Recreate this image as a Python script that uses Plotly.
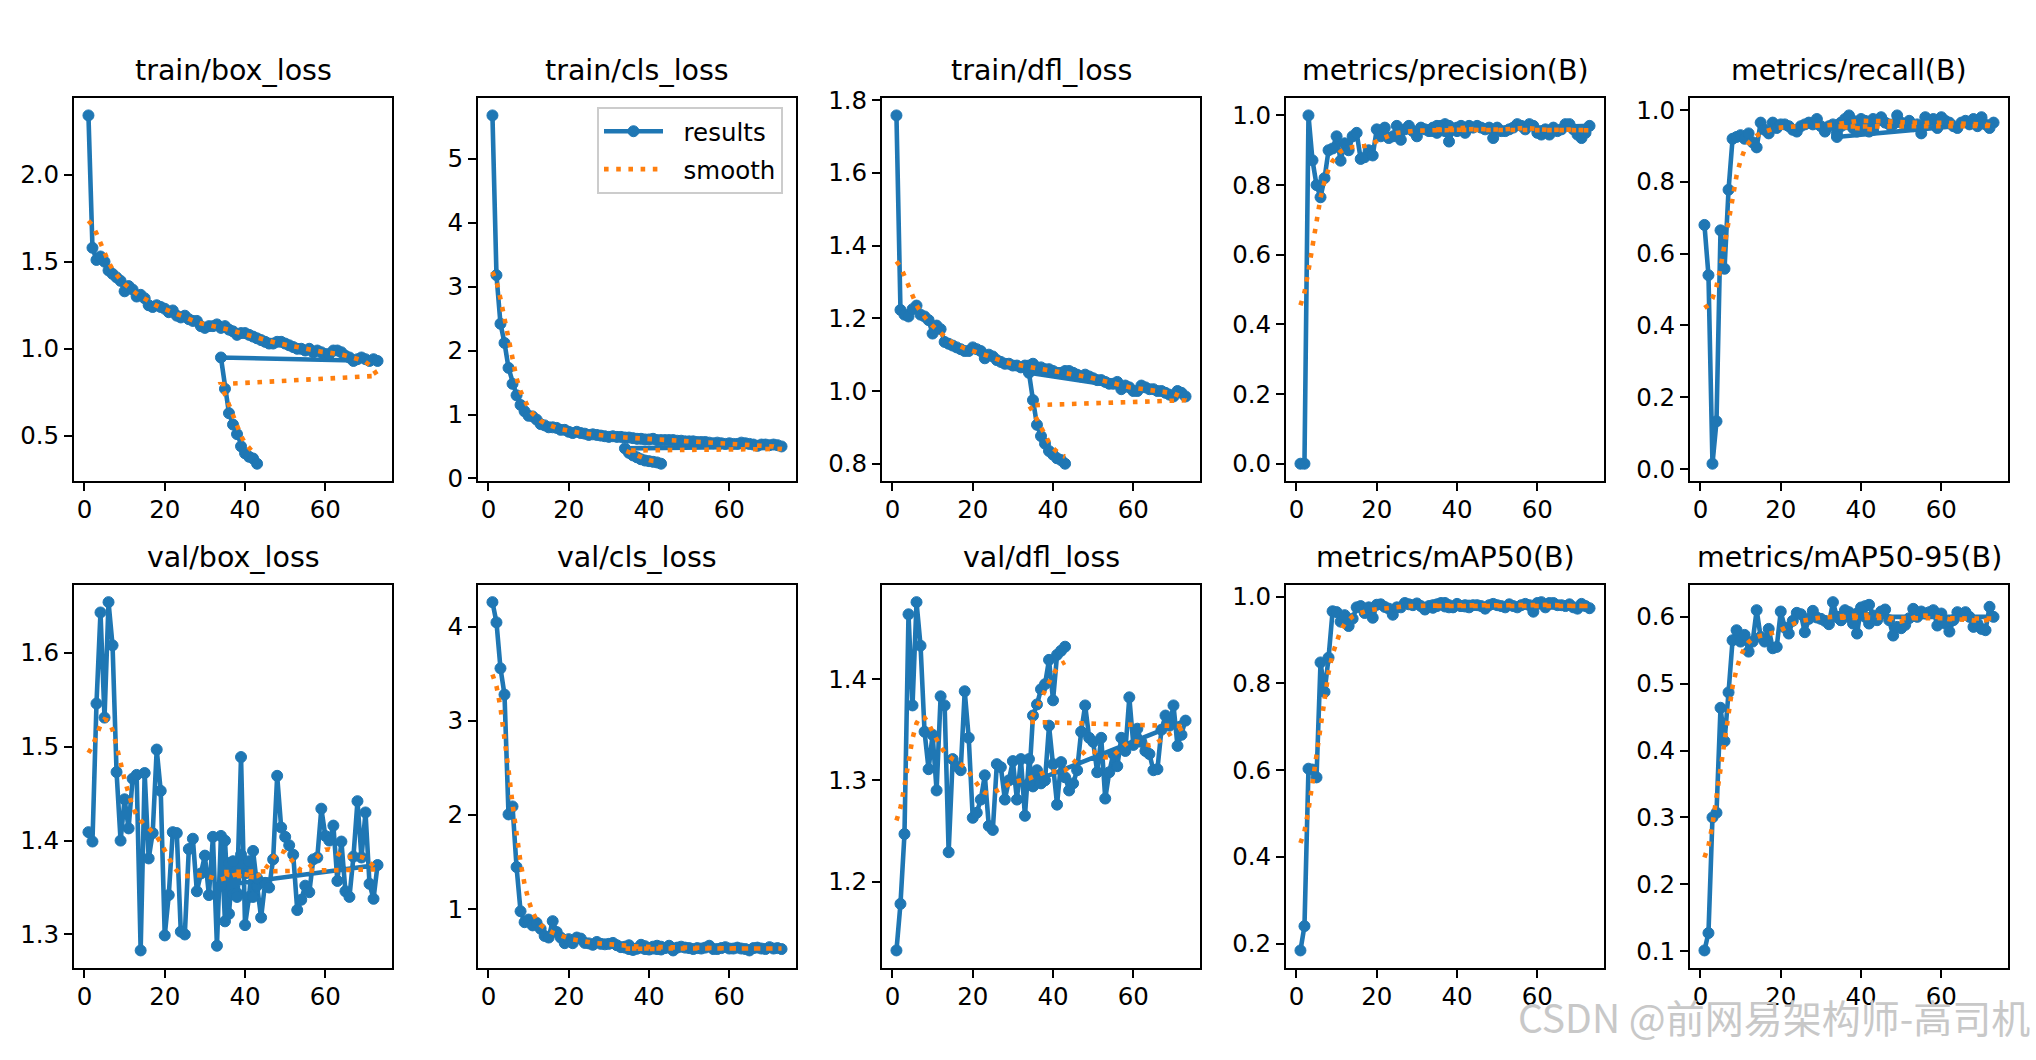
import numpy as np
import plotly.graph_objects as go

# ---------------- data ----------------
RUN1_EPOCHS = list(range(1, 74))
RUN2_EPOCHS = list(range(34, 44))

TITLES = ["train/box_loss", "train/cls_loss", "train/dfl_loss", "metrics/precision(B)", "metrics/recall(B)",
          "val/box_loss", "val/cls_loss", "val/dfl_loss", "metrics/mAP50(B)", "metrics/mAP50-95(B)"]
LEGEND_NAMES = ["results", "smooth"]

train_box_1 = [2.34, 1.58, 1.51, 1.53, 1.50, 1.45, 1.43, 1.41, 1.39, 1.33,
               1.36, 1.34, 1.30, 1.31, 1.29, 1.25, 1.24, 1.25, 1.24, 1.23,
               1.21, 1.22, 1.19, 1.18, 1.19, 1.17, 1.16, 1.16, 1.13, 1.12,
               1.13, 1.13, 1.14, 1.12, 1.13, 1.11, 1.10, 1.08, 1.09, 1.09,
               1.08, 1.07, 1.06, 1.05, 1.04, 1.03, 1.03, 1.04, 1.04, 1.03,
               1.02, 1.01, 1.00, 1.00, 0.99, 1.00, 0.98, 0.99, 0.98, 0.97,
               0.97, 0.99, 0.99, 0.98, 0.96, 0.95, 0.93, 0.94, 0.95, 0.94,
               0.93, 0.94, 0.93]
train_box_2 = [0.95, 0.77, 0.63, 0.565, 0.51, 0.44, 0.40, 0.38, 0.37, 0.34]

train_cls_1 = [5.68, 3.18, 2.42, 2.12, 1.73, 1.48, 1.30, 1.15, 1.05, 0.98,
               0.97, 0.92, 0.85, 0.83, 0.80, 0.80, 0.79, 0.76, 0.76, 0.73,
               0.71, 0.73, 0.71, 0.70, 0.68, 0.69, 0.68, 0.67, 0.66, 0.65,
               0.66, 0.65, 0.65, 0.64, 0.64, 0.63, 0.62, 0.62, 0.61, 0.61,
               0.62, 0.60, 0.60, 0.60, 0.60, 0.60, 0.59, 0.59, 0.58, 0.58,
               0.58, 0.57, 0.57, 0.57, 0.56, 0.55, 0.56, 0.55, 0.54, 0.55,
               0.54, 0.54, 0.56, 0.55, 0.54, 0.53, 0.51, 0.53, 0.53, 0.52,
               0.53, 0.52, 0.50]
train_cls_2 = [0.47, 0.40, 0.36, 0.33, 0.30, 0.28, 0.27, 0.26, 0.25, 0.23]

train_dfl_1 = [1.758, 1.223, 1.21, 1.205, 1.225, 1.235, 1.21, 1.205, 1.195, 1.158,
               1.18, 1.17, 1.135, 1.13, 1.125, 1.12, 1.115, 1.11, 1.11, 1.12,
               1.115, 1.11, 1.09, 1.10, 1.095, 1.085, 1.08, 1.075, 1.075, 1.07,
               1.07, 1.065, 1.07, 1.07, 1.075, 1.065, 1.065, 1.06, 1.06, 1.055,
               1.05, 1.05, 1.055, 1.055, 1.05, 1.045, 1.04, 1.045, 1.04, 1.035,
               1.03, 1.03, 1.025, 1.02, 1.02, 1.025, 1.005, 1.015, 1.01, 1.0,
               1.0, 1.015, 1.01, 1.005, 1.005, 1.0, 1.0, 0.995, 0.99, 0.985,
               1.0, 0.995, 0.985]
train_dfl_2 = [1.05, 0.975, 0.907, 0.876, 0.855, 0.835, 0.825, 0.815, 0.81, 0.80]

precision_1 = [0.0, 0.0, 1.0, 0.871, 0.80, 0.765, 0.82, 0.90, 0.905, 0.94,
               0.87, 0.92, 0.90, 0.94, 0.95, 0.875, 0.88, 0.90, 0.885, 0.96,
               0.94, 0.965, 0.935, 0.94, 0.97, 0.93, 0.96, 0.97, 0.955, 0.94,
               0.965, 0.96, 0.955, 0.965, 0.95, 0.97, 0.975, 0.925, 0.96, 0.955,
               0.965, 0.95, 0.97, 0.965, 0.97, 0.965, 0.96, 0.965, 0.935, 0.965,
               0.955, 0.955, 0.96, 0.965, 0.975, 0.97, 0.96, 0.975, 0.97, 0.95,
               0.945, 0.96, 0.945, 0.965, 0.955, 0.96, 0.975, 0.975, 0.96, 0.945,
               0.935, 0.95, 0.97]
precision_2 = [0.955, 0.97, 0.96, 0.955, 0.97, 0.96, 0.965, 0.97, 0.96, 0.965]

recall_1 = [0.68, 0.54, 0.015, 0.133, 0.665, 0.558, 0.778, 0.92, 0.925, 0.93,
            0.92, 0.935, 0.91, 0.896, 0.965, 0.945, 0.935, 0.965, 0.95, 0.96,
            0.96, 0.955, 0.945, 0.94, 0.955, 0.96, 0.965, 0.96, 0.975, 0.955,
            0.94, 0.955, 0.96, 0.935, 0.965, 0.975, 0.985, 0.97, 0.96, 0.975,
            0.97, 0.965, 0.975, 0.97, 0.98, 0.965, 0.96, 0.96, 0.985, 0.965,
            0.96, 0.97, 0.955, 0.96, 0.935, 0.98, 0.97, 0.975, 0.95, 0.98,
            0.97, 0.965, 0.955, 0.95, 0.965, 0.97, 0.96, 0.975, 0.955, 0.98,
            0.96, 0.95, 0.965]
recall_2 = [0.925, 0.955, 0.96, 0.96, 0.95, 0.94, 0.955, 0.945, 0.94, 0.945]

val_box_1 = [1.409, 1.399, 1.546, 1.643, 1.531, 1.654, 1.608, 1.473, 1.400, 1.444,
             1.413, 1.466, 1.470, 1.283, 1.472, 1.381, 1.408, 1.497, 1.453, 1.299,
             1.342, 1.409, 1.408, 1.303, 1.300, 1.391, 1.402, 1.346, 1.365, 1.384,
             1.342, 1.404, 1.288, 1.405, 1.314, 1.376, 1.343, 1.344, 1.489, 1.310,
             1.340, 1.389, 1.352, 1.318, 1.355, 1.350, 1.380, 1.469, 1.414, 1.404,
             1.395, 1.385, 1.326, 1.337, 1.352, 1.345, 1.380, 1.382, 1.434, 1.405,
             1.400, 1.416, 1.357, 1.399, 1.346, 1.340, 1.383, 1.442, 1.382, 1.430,
             1.354, 1.338, 1.374]
val_box_2 = [1.352, 1.400, 1.322, 1.378, 1.340, 1.385, 1.365, 1.378, 1.340, 1.360]

val_cls_1 = [4.26, 4.045, 3.557, 3.278, 2.005, 2.09, 1.446, 0.976, 0.86, 0.888,
             0.826, 0.853, 0.79, 0.714, 0.697, 0.871, 0.756, 0.697, 0.637, 0.68,
             0.637, 0.697, 0.686, 0.64, 0.635, 0.62, 0.65, 0.63, 0.625, 0.63,
             0.64, 0.615, 0.595, 0.60, 0.615, 0.575, 0.58, 0.62, 0.605, 0.585,
             0.60, 0.61, 0.60, 0.585, 0.61, 0.56, 0.59, 0.60, 0.59, 0.585,
             0.575, 0.585, 0.58, 0.59, 0.61, 0.575, 0.575, 0.585, 0.595, 0.58,
             0.58, 0.59, 0.58, 0.575, 0.56, 0.585, 0.59, 0.58, 0.575, 0.595,
             0.58, 0.585, 0.575]
val_cls_2 = [0.59, 0.575, 0.565, 0.58, 0.59, 0.575, 0.57, 0.58, 0.575, 0.57]

val_dfl_1 = [1.132, 1.178, 1.247, 1.464, 1.374, 1.476, 1.433, 1.348, 1.311, 1.345,
             1.29, 1.383, 1.374, 1.229, 1.321, 1.314, 1.31, 1.388, 1.342, 1.263,
             1.268, 1.281, 1.305, 1.255, 1.251, 1.316, 1.313, 1.281, 1.30, 1.319,
             1.281, 1.321, 1.265, 1.321, 1.294, 1.31, 1.297, 1.30, 1.354, 1.316,
             1.276, 1.318, 1.303, 1.29, 1.297, 1.31, 1.348, 1.374, 1.342, 1.338,
             1.308, 1.342, 1.282, 1.308, 1.326, 1.314, 1.342, 1.329, 1.382, 1.335,
             1.351, 1.338, 1.329, 1.326, 1.31, 1.311, 1.35, 1.364, 1.354, 1.374,
             1.334, 1.345, 1.359]
val_dfl_2 = [1.297, 1.364, 1.375, 1.390, 1.395, 1.419, 1.379, 1.424, 1.428, 1.432]

map50_1 = [0.184, 0.24, 0.603, 0.601, 0.583, 0.848, 0.78, 0.859, 0.966, 0.964,
           0.942, 0.957, 0.932, 0.949, 0.975, 0.978, 0.962, 0.975, 0.951, 0.981,
           0.982, 0.976, 0.972, 0.958, 0.975, 0.975, 0.985, 0.982, 0.98, 0.984,
           0.978, 0.97, 0.978, 0.974, 0.982, 0.985, 0.985, 0.975, 0.975, 0.983,
           0.978, 0.98, 0.975, 0.98, 0.98, 0.978, 0.972, 0.98, 0.983, 0.98,
           0.978, 0.975, 0.982, 0.978, 0.975, 0.98, 0.983, 0.98, 0.965, 0.985,
           0.987, 0.975, 0.985, 0.985, 0.98, 0.98, 0.978, 0.982, 0.975, 0.972,
           0.983, 0.978, 0.973]
map50_2 = [0.98, 0.978, 0.982, 0.977, 0.98, 0.976, 0.98, 0.978, 0.977, 0.979]

map5095_1 = [0.101, 0.127, 0.300, 0.307, 0.464, 0.414, 0.487, 0.565, 0.58, 0.563,
             0.573, 0.548, 0.563, 0.61, 0.57, 0.563, 0.582, 0.553, 0.555, 0.608,
             0.584, 0.575, 0.594, 0.606, 0.604, 0.577, 0.597, 0.609, 0.599, 0.597,
             0.594, 0.589, 0.622, 0.60, 0.595, 0.605, 0.607, 0.598, 0.575, 0.614,
             0.616, 0.618, 0.602, 0.595, 0.608, 0.611, 0.595, 0.572, 0.585, 0.583,
             0.588, 0.598, 0.612, 0.60, 0.608, 0.605, 0.607, 0.61, 0.587, 0.605,
             0.59, 0.578, 0.595, 0.607, 0.602, 0.607, 0.60, 0.585, 0.59, 0.582,
             0.58, 0.615, 0.60]
map5095_2 = [0.60, 0.595, 0.61, 0.60, 0.59, 0.605, 0.61, 0.60, 0.59, 0.598]

SERIES = [(train_box_1, train_box_2), (train_cls_1, train_cls_2), (train_dfl_1, train_dfl_2),
          (precision_1, precision_2), (recall_1, recall_2),
          (val_box_1, val_box_2), (val_cls_1, val_cls_2), (val_dfl_1, val_dfl_2),
          (map50_1, map50_2), (map5095_1, map5095_2)]

X_TICKS = [0, 20, 40, 60]
Y_TICKS = [[0.5, 1.0, 1.5, 2.0], [0, 1, 2, 3, 4, 5], [0.8, 1.0, 1.2, 1.4, 1.6, 1.8],
           [0.0, 0.2, 0.4, 0.6, 0.8, 1.0], [0.0, 0.2, 0.4, 0.6, 0.8, 1.0],
           [1.3, 1.4, 1.5, 1.6], [1, 2, 3, 4], [1.2, 1.3, 1.4],
           [0.2, 0.4, 0.6, 0.8, 1.0], [0.1, 0.2, 0.3, 0.4, 0.5, 0.6]]
Y_FMT = [".1f", "d", ".1f", ".1f", ".1f", ".1f", "d", ".1f", ".1f", ".1f"]

WATERMARK = "CSDN @前网易架构师-高司机"


# ---------------- helpers ----------------
def gaussian_filter1d(y, sigma=3.0, truncate=4.0):
    y = np.asarray(y, dtype=float)
    r = int(truncate * sigma + 0.5)
    k = np.arange(-r, r + 1)
    w = np.exp(-0.5 * (k / sigma) ** 2)
    w /= w.sum()
    yp = np.pad(y, r, mode="symmetric")
    return np.convolve(yp, w, mode="valid")


W, H = 2036, 1060
COL_LEFT = [74, 478, 882, 1286, 1690]
AX_W = 318
ROW_TOP = [88, 586]
AX_H = 392

BLUE = "#1f77b4"
ORANGE = "#ff7f0e"
FONT = "DejaVu Sans"
TICK_SIZE = 24.5
TITLE_SIZE = 28.5
PAD = "\u00a0\u00a0"  # gap between legend handle and label, as in matplotlib

fig = go.Figure()
layout = dict(
    width=W, height=H, margin=dict(l=0, r=0, t=0, b=0),
    paper_bgcolor="white", plot_bgcolor="white",
    font=dict(family=FONT, size=TICK_SIZE, color="black"),
    showlegend=True,
    legend=dict(x=783 / W, y=1 - 97 / H, xanchor="right", yanchor="top",
                bgcolor="rgba(255,255,255,0.8)", bordercolor="#cccccc", borderwidth=2,
                font=dict(family=FONT, size=TICK_SIZE), tracegroupgap=3, itemwidth=59),
)
annotations = []

xs = np.array(RUN1_EPOCHS + RUN2_EPOCHS, dtype=float)
for i, (r1, r2) in enumerate(SERIES):
    assert len(r1) == len(RUN1_EPOCHS) and len(r2) == len(RUN2_EPOCHS), (i, len(r1), len(r2))
    y = np.array(r1 + r2, dtype=float)
    ys = gaussian_filter1d(y, 3)
    n = i + 1
    suf = "" if n == 1 else str(n)
    row, col = divmod(i, 5)
    x0 = COL_LEFT[col]
    y0 = ROW_TOP[row]
    xdom = [x0 / W, (x0 + AX_W) / W]
    ydom = [1 - (y0 + AX_H) / H, 1 - y0 / H]

    lo, hi = min(y.min(), ys.min()), max(y.max(), ys.max())
    span = hi - lo
    xlo, xhi = xs.min(), xs.max()
    xspan = xhi - xlo

    show = (n == 2)
    fig.add_trace(go.Scatter(
        x=xs, y=y, mode="lines+markers", name=PAD + LEGEND_NAMES[0], legendgroup="a", showlegend=show,
        line=dict(color=BLUE, width=4.6),
        marker=dict(color=BLUE, size=11, line=dict(color=BLUE, width=1)),
        xaxis="x" + suf, yaxis="y" + suf, cliponaxis=True))
    fig.add_trace(go.Scatter(
        x=xs, y=ys, mode="lines", name=PAD + LEGEND_NAMES[1], legendgroup="b", showlegend=show,
        line=dict(color=ORANGE, width=4.6, dash="4.6px,7.6px"),
        xaxis="x" + suf, yaxis="y" + suf))

    axcommon = dict(showgrid=False, zeroline=False, showline=True, mirror=True,
                    linecolor="black", linewidth=1.8, ticks="outside", ticklen=8,
                    tickwidth=1.8, tickcolor="black",
                    tickfont=dict(family=FONT, size=TICK_SIZE, color="black"))
    layout["xaxis" + suf] = dict(domain=xdom, anchor="y" + suf,
                                 range=[xlo - 0.05 * xspan, xhi + 0.05 * xspan],
                                 tickvals=X_TICKS, ticklabelstandoff=-2, **axcommon)
    layout["yaxis" + suf] = dict(domain=ydom, anchor="x" + suf,
                                 range=[lo - 0.05 * span, hi + 0.05 * span],
                                 tickvals=Y_TICKS[i], tickformat=Y_FMT[i],
                                 ticklabelstandoff=0, **axcommon)
    annotations.append(dict(
        text=TITLES[i], xref="paper", yref="paper",
        x=(x0 + AX_W / 2) / W, y=1 - y0 / H, xanchor="center", yanchor="bottom",
        yshift=9, showarrow=False,
        font=dict(family=FONT, size=TITLE_SIZE, color="black")))

annotations.append(dict(
    text=WATERMARK, xref="paper", yref="paper", x=2032 / W, y=1 - 1027 / H,
    xanchor="right", yanchor="middle", showarrow=False,
    font=dict(family="Noto Sans CJK SC", size=39, color="#c8c8c8")))

layout["annotations"] = annotations
fig.update_layout(**layout)
fig.write_html("out.html")
